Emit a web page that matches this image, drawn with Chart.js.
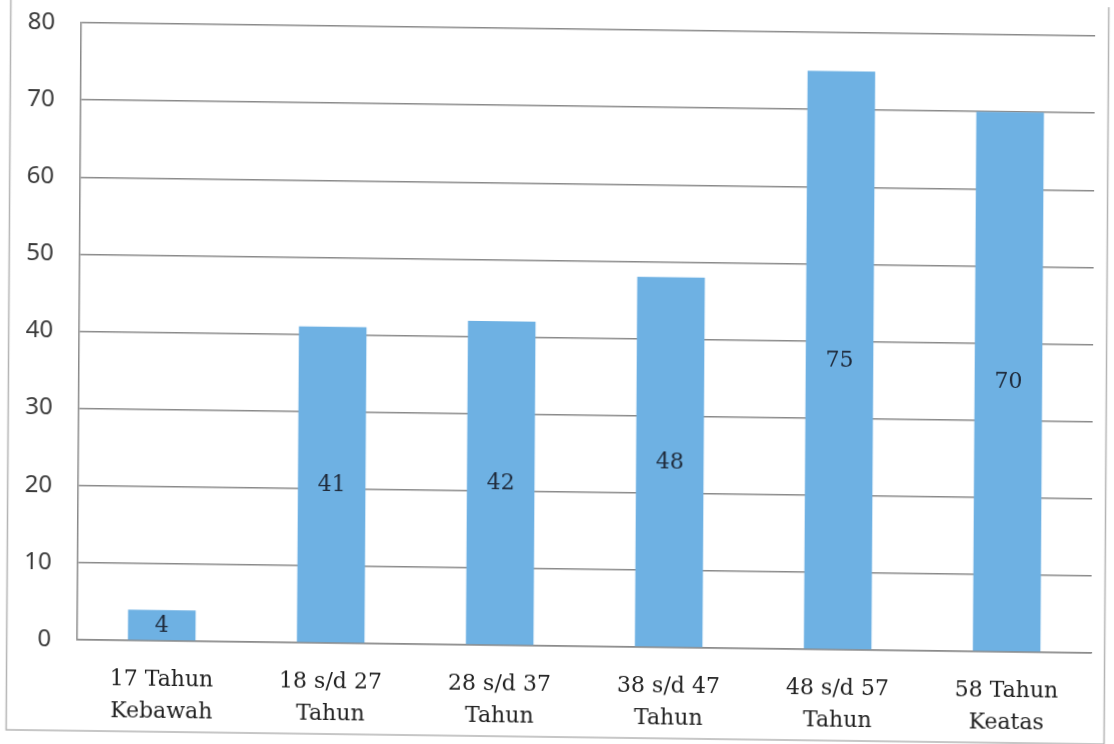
<!DOCTYPE html>
<html><head><meta charset="utf-8">
<script src="https://cdn.jsdelivr.net/npm/chart.js@4"></script>
<style>html,body{margin:0;padding:0;background:#fff;overflow:hidden}#wrap{width:1114px;height:744px;position:relative}
#c{transform:matrix(1,0.0131,-0.0065,1,0,0);transform-origin:557px 372px}</style>
</head><body><div id="wrap"><canvas id="c" width="1114" height="744"></canvas></div>
<script>
const categories = [["17 Tahun","Kebawah"],["18 s/d 27","Tahun"],["28 s/d 37","Tahun"],["38 s/d 47","Tahun"],["48 s/d 57","Tahun"],["58 Tahun","Keatas"]];
const values = [4, 41, 42, 48, 75, 70];
const yTicks = [0,10,20,30,40,50,60,70,80];

const SERIF = "'DejaVu Serif', 'Liberation Serif', serif";
const SANS = "'Noto Sans', 'Liberation Sans', sans-serif";

const labelPlugin = {
  id: 'labels',
  afterDatasetsDraw(chart){
    const ctx = chart.ctx;
    const meta = chart.getDatasetMeta(0);
    ctx.save();
    ctx.font = "22px " + SERIF;
    ctx.fillStyle = "#1f2a3a";
    ctx.textAlign = "center";
    ctx.textBaseline = "middle";
    meta.data.forEach((bar, i) => {
      const mid = (bar.y + bar.base) / 2;
      ctx.fillText(String(values[i]), bar.x, mid + 1);
    });
    ctx.restore();
  }
};
const framePlugin = {
  id: 'frame',
  beforeDraw(chart){
    const ctx = chart.ctx;
    ctx.save();
    ctx.strokeStyle = "#b4b4b4";
    ctx.lineWidth = 1.5;
    ctx.strokeRect(8.5, -10, 1098, 747);
    ctx.restore();
  }
};

new Chart(document.getElementById('c'), {
  type: 'bar',
  data: {
    labels: categories,
    datasets: [{
      data: values,
      backgroundColor: 'rgb(110,177,227)',
      barPercentage: 0.4,
      categoryPercentage: 1.0
    }]
  },
  options: {
    responsive: false,
    animation: false,
    events: [],
    layout: { padding: { left: 0, right: 21, top: 29, bottom: 4 } },
    plugins: { legend: { display: false }, tooltip: { enabled: false } },
    scales: {
      x: {
        grid: { display: false, drawTicks: false },
        border: { display: true, color: '#8a8a8a', width: 1.5 },
        ticks: { color: '#222', font: { family: SERIF, size: 22, lineHeight: 1.45 }, padding: 23, maxRotation: 0, autoSkip: false },
        afterFit(s){ s.height = 94; s.paddingLeft = 0; s.paddingRight = 0; }
      },
      y: {
        min: 0, max: 80,
        afterBuildTicks(s){ s.ticks = yTicks.map(v => ({ value: v })); },
        grid: { color: '#8a8a8a', lineWidth: 1.5, drawTicks: false },
        border: { display: true, color: '#8a8a8a', width: 1.5 },
        ticks: { color: '#3a3a3a', font: { family: SANS, size: 24 }, padding: 26 },
        afterFit(s){ s.width = 79; s.paddingTop = 0; s.paddingBottom = 0; }
      }
    }
  },
  plugins: [labelPlugin, framePlugin]
});
</script></body></html>
